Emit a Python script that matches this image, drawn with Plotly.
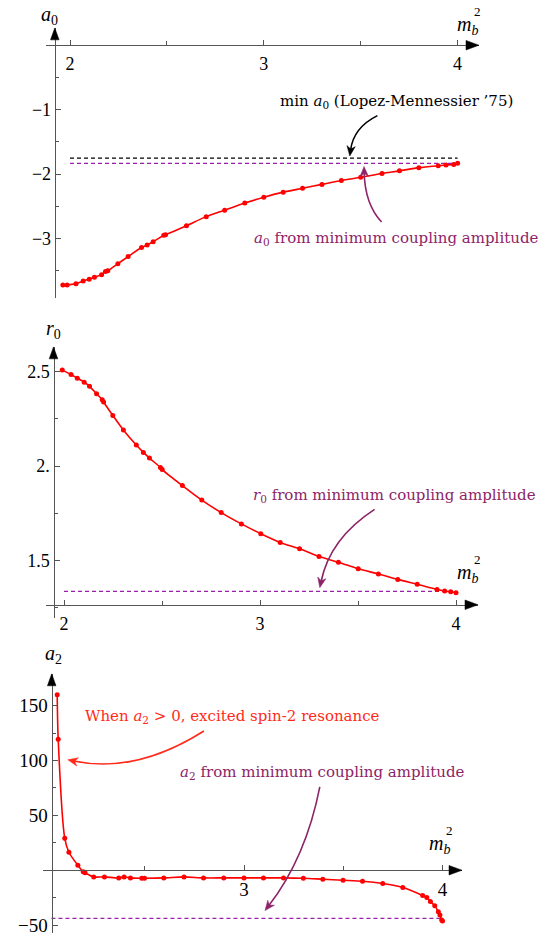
import plotly.graph_objects as go

W, H = 554, 942

# ---------------- data ----------------
# a0 scan versus m_b^2
m2_a0 = [1.963, 1.985, 2.031, 2.068, 2.099, 2.126, 2.163, 2.183, 2.195, 2.247, 2.300,
         2.369, 2.398, 2.429, 2.484, 2.493, 2.601, 2.703, 2.798, 2.902, 3.000, 3.100,
         3.200, 3.300, 3.400, 3.500, 3.610, 3.700, 3.800, 3.900, 3.940, 3.980, 4.000]
a0 = [-3.72, -3.72, -3.70, -3.66, -3.63, -3.60, -3.56, -3.51, -3.50, -3.39, -3.28,
      -3.14, -3.10, -3.05, -2.95, -2.94, -2.80, -2.66, -2.56, -2.45, -2.36, -2.28,
      -2.22, -2.16, -2.10, -2.05, -1.99, -1.95, -1.90, -1.87, -1.86, -1.85, -1.83]

# r0 scan versus m_b^2
m2_r0 = [1.991, 2.036, 2.068, 2.103, 2.130, 2.166, 2.195, 2.202, 2.249, 2.303, 2.369,
         2.405, 2.436, 2.492, 2.501, 2.604, 2.703, 2.802, 2.905, 3.004, 3.103, 3.202,
         3.301, 3.400, 3.501, 3.604, 3.703, 3.802, 3.903, 3.942, 3.973, 4.000]
r0 = [2.509, 2.486, 2.466, 2.445, 2.423, 2.384, 2.352, 2.340, 2.269, 2.192, 2.112,
      2.073, 2.043, 1.993, 1.982, 1.897, 1.820, 1.754, 1.694, 1.642, 1.596, 1.562,
      1.521, 1.491, 1.456, 1.429, 1.400, 1.374, 1.347, 1.338, 1.334, 1.329]

# a2 scan versus m_b^2
m2_a2 = [2.059, 2.064, 2.097, 2.118, 2.163, 2.190, 2.199, 2.243, 2.297, 2.369, 2.396,
         2.428, 2.485, 2.499, 2.596, 2.698, 2.796, 2.898, 3.000, 3.098, 3.199, 3.299,
         3.397, 3.499, 3.597, 3.699, 3.800, 3.900, 3.921, 3.939, 3.961, 3.979, 3.987,
         3.996, 4.000]
a2 = [160.0, 119.4, 29.1, 16.4, 4.5, -1.5, -2.4, -6.1, -6.1, -7.0, -6.1,
      -7.0, -7.3, -7.3, -7.0, -6.1, -7.0, -7.0, -7.0, -7.0, -7.0, -7.3,
      -8.2, -9.1, -10.0, -12.1, -15.8, -23.0, -24.8, -28.5, -32.4, -37.9, -40.9,
      -45.5, -46.4]

# reference values (horizontal dashed lines)
a0_lopez_mennessier = -1.753
a0_min_coupling = -1.835
r0_min_coupling = 1.336
a2_min_coupling = -43.9
ref_span = [2.0, 4.0]
a2_ref_span = [2.03, 4.0]

# tick values / labels
x_ticks_full = [2, 3, 4]
x_ticks_a2 = [3, 4]
x_minor = [2.5, 3.5]
a0_ticks, a0_ticktext = [-3, -2, -1], ["\u22123", "\u22122", "\u22121"]
a0_minor = [-3.5, -2.5, -1.5, -0.5]
r0_ticks, r0_ticktext = [1.5, 2.0, 2.5], ["1.5", "2.", "2.5"]
r0_minor = [1.25, 1.75, 2.25]
a2_ticks, a2_ticktext = [-50, 50, 100, 150], ["\u221250", "50", "100", "150"]
a2_minor = [-25, 25, 75, 125]

# ---------------- styling ----------------
RED = "#ff0000"
PLUM = "#8c2468"
VIOLET = "#9a22a8"
AXIS = "#555555"
TICK_FONT = "Liberation Serif, Times New Roman, serif"
NOTE_FONT = "DejaVu Serif, serif"


def px2paper(px, py):
    return px / W, 1 - py / H


def calib(va, pa, vb, pb):
    s = (pb - pa) / (vb - va)
    return (lambda p: va + (p - pa) / s)


# pixel boxes and calibrations for the three stacked panels
panels = [
    dict(box=(46, 479, 28, 299), xcal=(2, 70, 4, 457.6), ycal=(-1, 110, -3, 239.3),
         xaxis_py=45.35, yaxis_px=54.8, tfs=18),
    dict(box=(46, 478, 348, 620), xcal=(2, 64, 4, 456), ycal=(2.5, 373, 1.5, 562.3),
         xaxis_py=606.7, yaxis_px=53.5, tfs=18),
    dict(box=(43.3, 462, 676, 936), xcal=(3, 244, 4, 442.5), ycal=(150, 708, -50, 928),
         xaxis_py=873, yaxis_px=51.7, tfs=19),
]

tick_sets = [
    (x_ticks_full, [str(v) for v in x_ticks_full], a0_ticks, a0_ticktext, a0_minor),
    (x_ticks_full, [str(v) for v in x_ticks_full], r0_ticks, r0_ticktext, r0_minor),
    (x_ticks_a2, [str(v) for v in x_ticks_a2], a2_ticks, a2_ticktext, a2_minor),
]

fig = go.Figure()
layout_axes = {}
shapes = []
annotations = []


def tri(points, color):
    p = [px2paper(*q) for q in points]
    path = "M" + " L".join(f"{x:.5f},{y:.5f}" for x, y in p) + " Z"
    return dict(type="path", xref="paper", yref="paper", path=path,
                fillcolor=color, line=dict(color=color, width=0.5), layer="above")


for i, (pan, ts) in enumerate(zip(panels, tick_sets)):
    L, R, T, B = pan["box"]
    fx = calib(*pan["xcal"])
    fy = calib(*pan["ycal"])
    xt, xtt, yt, ytt, ymin = ts
    sfx = "" if i == 0 else str(i + 1)
    common = dict(showgrid=False, zeroline=False, showline=True, linecolor=AXIS,
                  linewidth=1.3, ticks="inside", ticklen=5, tickwidth=1,
                  tickcolor=AXIS, anchor="free",
                  tickfont=dict(family=TICK_FONT, size=pan["tfs"], color="black"))
    layout_axes["xaxis" + sfx] = dict(
        common, domain=[L / W, R / W], range=[fx(L), fx(R)],
        position=1 - pan["xaxis_py"] / H, tickmode="array", tickvals=xt, ticktext=xtt,
        ticklabelstandoff=2,
        minor=dict(tickmode="array", tickvals=x_minor, ticks="inside", ticklen=4,
                   tickcolor=AXIS, tickwidth=1))
    layout_axes["yaxis" + sfx] = dict(
        common, domain=[1 - B / H, 1 - T / H], range=[fy(B), fy(T)],
        position=pan["yaxis_px"] / W, tickmode="array", tickvals=yt, ticktext=ytt,
        minor=dict(tickmode="array", tickvals=ymin, ticks="inside", ticklen=3.5,
                   tickcolor=AXIS, tickwidth=1))
    # axis arrowheads
    ay = pan["xaxis_py"]
    shapes.append(tri([(R, ay), (R - 13, ay - 4.8), (R - 13, ay + 4.8)], "black"))
    ax = pan["yaxis_px"]
    shapes.append(tri([(ax, T), (ax - 4.3, T + 12), (ax + 4.3, T + 12)], "black"))

fig.update_layout(**layout_axes)

# ---------------- traces ----------------
curve_style = dict(mode="lines+markers", line=dict(color=RED, width=1.6, shape="spline", smoothing=0.8),
                   marker=dict(color=RED, size=5), hoverinfo="skip")
dash_style = dict(mode="lines", hoverinfo="skip")

fig.add_trace(go.Scatter(x=ref_span, y=[a0_lopez_mennessier] * 2, xaxis="x", yaxis="y",
                         line=dict(color="black", width=1.3, dash="4px,3px"), **dash_style))
fig.add_trace(go.Scatter(x=ref_span, y=[a0_min_coupling] * 2, xaxis="x", yaxis="y",
                         line=dict(color=VIOLET, width=1.3, dash="4px,3px"), **dash_style))
fig.add_trace(go.Scatter(x=m2_a0, y=a0, xaxis="x", yaxis="y", **curve_style))

fig.add_trace(go.Scatter(x=ref_span, y=[r0_min_coupling] * 2, xaxis="x2", yaxis="y2",
                         line=dict(color=VIOLET, width=1.3, dash="4px,3px"), **dash_style))
fig.add_trace(go.Scatter(x=m2_r0, y=r0, xaxis="x2", yaxis="y2", **curve_style))

fig.add_trace(go.Scatter(x=a2_ref_span, y=[a2_min_coupling] * 2, xaxis="x3", yaxis="y3",
                         line=dict(color=VIOLET, width=1.3, dash="4px,3px"), **dash_style))
fig.add_trace(go.Scatter(x=m2_a2, y=a2, xaxis="x3", yaxis="y3", **curve_style))


# ---------------- annotation arrows ----------------
def curved_arrow(p0, c, p1, color, width=1.6, hl=10, hw=4.2):
    dx, dy = p1[0] - c[0], p1[1] - c[1]
    n = (dx * dx + dy * dy) ** 0.5
    ux, uy = dx / n, dy / n
    end = (p1[0] - ux * hl * 0.6, p1[1] - uy * hl * 0.6)
    a, b, e = px2paper(*p0), px2paper(*c), px2paper(*end)
    shapes.append(dict(type="path", xref="paper", yref="paper",
                       path=f"M{a[0]:.5f},{a[1]:.5f} Q{b[0]:.5f},{b[1]:.5f} {e[0]:.5f},{e[1]:.5f}",
                       line=dict(color=color, width=width), layer="above"))
    bx, by = p1[0] - ux * hl, p1[1] - uy * hl
    nx, ny = -uy, ux
    notch = (p1[0] - ux * hl * 0.7, p1[1] - uy * hl * 0.7)
    shapes.append(tri([p1, (bx + nx * hw, by + ny * hw), notch,
                       (bx - nx * hw, by - ny * hw)], color))


curved_arrow((377.4, 116), (353.5, 128), (349.8, 156.5), "black")
curved_arrow((381.6, 222.7), (365, 205), (364, 167), PLUM)
curved_arrow((374.6, 511), (330, 540), (319.8, 589.5), PLUM)
curved_arrow((203.9, 733.3), (136, 776.5), (67.8, 762.2), "#ff2a1a")
curved_arrow((319.8, 789.3), (306, 860), (265, 913.5), PLUM)


# ---------------- text ----------------
def note(px, py, text, color, size=15, family=NOTE_FONT, xanchor="center"):
    x, y = px2paper(px, py)
    annotations.append(dict(x=x, y=y, xref="paper", yref="paper", text=text,
                            showarrow=False, xanchor=xanchor, yanchor="middle",
                            font=dict(family=family, size=size, color=color)))


note(396, 102, "min <i>a</i><sub>0</sub> (Lopez-Mennessier \u201975)", "black")
note(396, 239, "<i>a</i><sub>0</sub> from minimum coupling amplitude", PLUM)
note(394.5, 497, "<i>r</i><sub>0</sub> from minimum coupling amplitude", PLUM)
note(232, 719, "When <i>a</i><sub>2</sub> > 0, excited spin-2 resonance", "#ff2a1a")
note(321.5, 775, "<i>a</i><sub>2</sub> from minimum coupling amplitude", PLUM)

# axis titles
note(49, 16, "<i>a</i><sub>0</sub>", "black", size=20, family=TICK_FONT)
note(53, 331, "<i>r</i><sub>0</sub>", "black", size=20, family=TICK_FONT)
note(53, 657, "<i>a</i><sub>2</sub>", "black", size=20, family=TICK_FONT)
for mx, my in [(455, 26), (455, 575), (427, 847)]:
    note(mx, my, "<i>m</i><sub><i>b</i></sub>", "black", size=20, family=TICK_FONT, xanchor="left")
    note(mx + 17, my - 14, "2", "black", size=13, family=TICK_FONT, xanchor="left")

fig.update_layout(
    width=W, height=H, margin=dict(l=0, r=0, t=0, b=0),
    paper_bgcolor="white", plot_bgcolor="white", showlegend=False,
    shapes=shapes, annotations=annotations,
)

fig.write_html("out.html")
